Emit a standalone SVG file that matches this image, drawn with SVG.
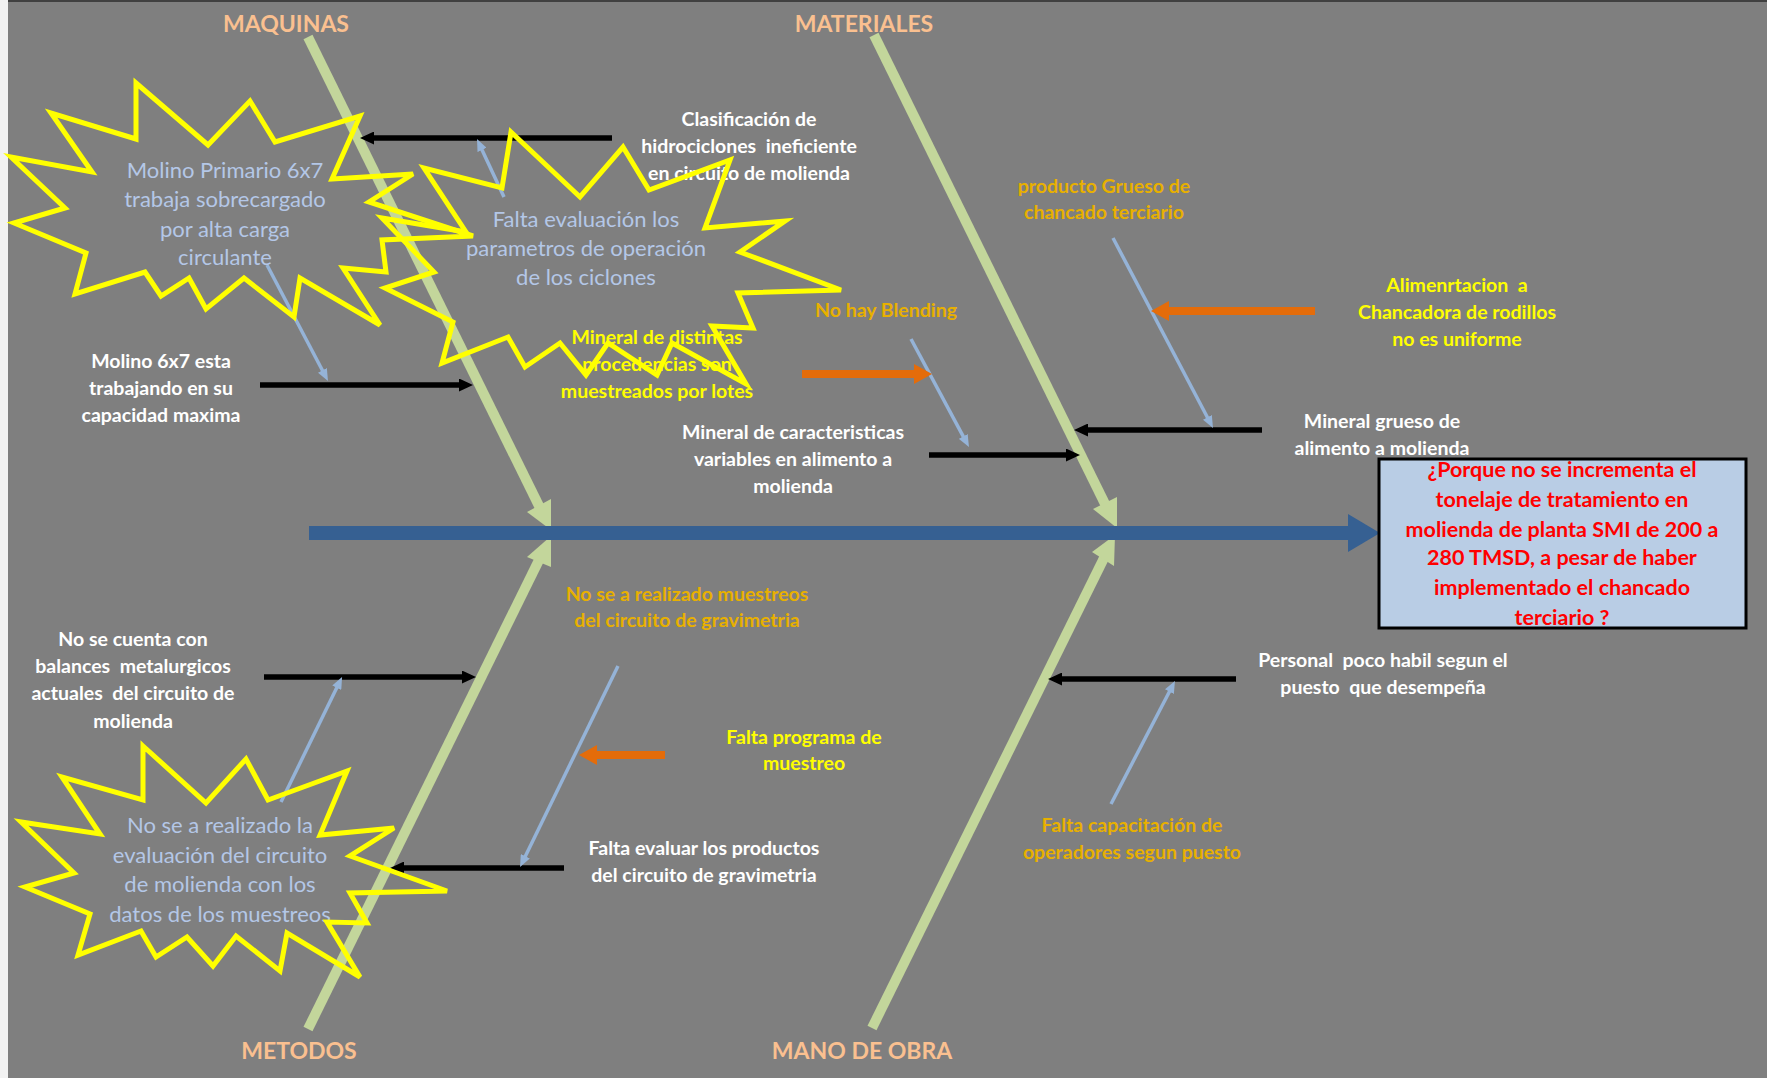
<svg xmlns="http://www.w3.org/2000/svg" width="1767" height="1078" viewBox="0 0 1767 1078">
<style>
text{font-family:Lato,"Open Sans","Liberation Sans",sans-serif;text-anchor:middle;white-space:pre}
.cat{font-weight:700;font-size:23px;fill:#FAC090}
.w{font-weight:700;font-size:19.5px;fill:#FFFFFF}
.y{font-weight:700;font-size:19.5px;fill:#FFFF00}
.g{font-weight:700;font-size:19.5px;fill:#E8B000}
.s{font-weight:400;font-size:22px;fill:#B4C7E7}
.q{font-weight:700;font-size:21.5px;fill:#FF0000}
.star{fill:none;stroke:#FFFF00;stroke-width:5;stroke-linejoin:miter}
.bone{stroke:#C3D69B;stroke-width:10;fill:none}
.bh{fill:#C3D69B}
.blk{stroke:#000;stroke-width:5.5;fill:none;marker-end:url(#mb)}
.blu{stroke:#95B3D7;stroke-width:3.5;fill:none;marker-end:url(#mu)}
.org{stroke:#E46C0A;stroke-width:8;fill:none;marker-end:url(#mo)}
</style>
<defs>
<marker id="mb" viewBox="0 0 14 13" refX="4" refY="6.5" markerWidth="14" markerHeight="13" markerUnits="userSpaceOnUse" orient="auto"><path d="M0,0 L14,6.5 L0,13 Z" fill="#000"/></marker>
<marker id="mu" viewBox="0 0 12 10" refX="3" refY="5" markerWidth="12" markerHeight="10" markerUnits="userSpaceOnUse" orient="auto"><path d="M0,0 L12,5 L0,10 Z" fill="#95B3D7"/></marker>
<marker id="mo" viewBox="0 0 18 20" refX="5" refY="10" markerWidth="18" markerHeight="20" markerUnits="userSpaceOnUse" orient="auto"><path d="M0,0 L18,10 L0,20 Z" fill="#E46C0A"/></marker>
</defs>
<rect x="0" y="0" width="1767" height="1078" fill="#7F7F7F"/>
<rect x="0" y="0" width="8" height="1078" fill="#F2F2F2"/>
<rect x="8" y="0" width="1759" height="2" fill="#404040"/>

<g id="connectors">
  <line class="bone" x1="308" y1="37" x2="540" y2="508"/>
  <polygon class="bh" points="527,512 551,499 551,530"/>
  <line class="bone" x1="874" y1="35" x2="1107" y2="508"/>
  <polygon class="bh" points="1093,509 1117,497 1117,528"/>
  <line class="bone" x1="308" y1="1029" x2="540" y2="558"/>
  <polygon class="bh" points="527,557 551,567 551,536"/>
  <line class="bone" x1="872" y1="1028" x2="1104" y2="558"/>
  <polygon class="bh" points="1092,552 1114,566 1115,535"/>
  <rect x="309" y="526" width="1041" height="14" fill="#366092"/>
  <polygon points="1348,514 1380,533 1348,552" fill="#366092"/>

  <path class="blk" d="M612,138 H370"/>
  <path class="blk" d="M260,385 H463"/>
  <path class="blk" d="M929,455 H1070"/>
  <path class="blk" d="M1262,430 H1084"/>
  <path class="blk" d="M264,677 H466"/>
  <path class="blk" d="M564,868 H400"/>
  <path class="blk" d="M1236,679 H1058"/>

  <path class="blu" d="M267,265 L323.8,373"/>
  <path class="blu" d="M504,197 L480.8,147.2"/>
  <path class="blu" d="M911,339 L964.7,439.1"/>
  <path class="blu" d="M1113,238 L1208.8,420"/>
  <path class="blu" d="M281,802 L338.1,685.1"/>
  <path class="blu" d="M618,666 L524,858.9"/>
  <path class="blu" d="M1111,804 L1170.8,689"/>

  <path class="org" d="M1315,311 H1164"/>
  <path class="org" d="M802,374 H919"/>
  <path class="org" d="M665,755 H592"/>
</g>

<g id="cat-maquinas"><text class="cat" x="286" y="32">MAQUINAS</text></g>
<g id="cat-materiales"><text class="cat" x="864" y="32">MATERIALES</text></g>
<g id="cat-metodos"><text class="cat" x="299" y="1059">METODOS</text></g>
<g id="cat-mano"><text class="cat" x="862" y="1059">MANO DE OBRA</text></g>

<g id="c-clasificacion"><text class="w" x="749" y="126">Clasificación de</text><text class="w" x="749" y="153">hidrociclones  ineficiente</text><text class="w" x="749" y="180">en circuito de molienda</text></g>
<g id="c-molino67"><text class="w" x="161" y="368">Molino 6x7 esta</text><text class="w" x="161" y="395">trabajando en su</text><text class="w" x="161" y="422">capacidad maxima</text></g>
<g id="c-mineral-var"><text class="w" x="793" y="439">Mineral de caracteristicas</text><text class="w" x="793" y="466">variables en alimento a</text><text class="w" x="793" y="493">molienda</text></g>
<g id="c-mineral-grueso"><text class="w" x="1382" y="428">Mineral grueso de</text><text class="w" x="1382" y="455">alimento a molienda</text></g>
<g id="c-balances"><text class="w" x="133" y="646">No se cuenta con</text><text class="w" x="133" y="673">balances  metalurgicos</text><text class="w" x="133" y="700">actuales  del circuito de</text><text class="w" x="133" y="728">molienda</text></g>
<g id="c-falta-evaluar"><text class="w" x="704" y="855">Falta evaluar los productos</text><text class="w" x="704" y="882">del circuito de gravimetria</text></g>
<g id="c-personal"><text class="w" x="1383" y="667">Personal  poco habil segun el</text><text class="w" x="1383" y="694">puesto  que desempeña</text></g>

<g id="c-mineral-distintas"><text class="y" x="657" y="344">Mineral de distintas</text><text class="y" x="657" y="371">procedencias son</text><text class="y" x="657" y="398">muestreados por lotes</text></g>
<g id="c-alimentacion"><text class="y" x="1457" y="292">Alimenrtacion  a</text><text class="y" x="1457" y="319">Chancadora de rodillos</text><text class="y" x="1457" y="346">no es uniforme</text></g>
<g id="c-programa"><text class="y" x="804" y="744">Falta programa de</text><text class="y" x="804" y="770">muestreo</text></g>

<g id="c-producto"><text class="g" x="1104" y="193">producto Grueso de</text><text class="g" x="1104" y="219">chancado terciario</text></g>
<g id="c-blending"><text class="g" x="886" y="317">No hay Blending</text></g>
<g id="c-muestreos"><text class="g" x="687" y="601">No se a realizado muestreos</text><text class="g" x="687" y="627">del circuito de gravimetria</text></g>
<g id="c-capacitacion"><text class="g" x="1132" y="832">Falta capacitación de</text><text class="g" x="1132" y="859">operadores segun puesto</text></g>

<g id="star-molino">
  <text class="s" x="225" y="178">Molino Primario 6x7</text><text class="s" x="225" y="207">trabaja sobrecargado</text><text class="s" x="225" y="237">por alta carga</text><text class="s" x="225" y="265">circulante</text>
  <polygon class="star" points="136,83 208,145 250,101 275,142 360,116 332,179 413,174 369,202 473,236 382,240 386,272 343,268 380,325 300,278 294,317 244,278 206,309 189,278 161,296 145,272 75,294 86,253 14,223 65,208 11,157 92,172 51,113 136,139"/>
</g>
<g id="star-ciclones">
  <text class="s" x="586" y="227">Falta evaluación los</text><text class="s" x="586" y="256">parametros de operación</text><text class="s" x="586" y="285">de los ciclones</text>
  <polygon class="star" points="511,132 580,197 623,147 649,190 730,160 705,228 785,221 740,252 841,290 738,293 753,328 712,326 746,384 672,343 657,375 608,343 586,375 560,343 525,367 508,337 442,363 453,322 385,288 434,272 382,218 466,232 424,168 502,188"/>
</g>
<g id="star-evaluacion">
  <text class="s" x="220" y="833">No se a realizado la</text><text class="s" x="220" y="863">evaluación del circuito</text><text class="s" x="220" y="892">de molienda con los</text><text class="s" x="220" y="922">datos de los muestreos</text>
  <polygon class="star" points="143,746 206,803 246,759 268,800 347,771 320,835 394,828 350,856 447,891 350,893 367,923 327,922 360,977 287,933 280,971 236,936 213,966 187,937 156,957 141,931 78,955 90,914 25,887 74,873 21,822 100,834 62,777 143,800"/>
</g>

<g id="effect">
  <rect x="1379" y="459" width="367" height="169" fill="#B9CDE5" stroke="#000" stroke-width="3"/>
  <text class="q" x="1562" y="477">¿Porque no se incrementa el</text>
  <text class="q" x="1562" y="507">tonelaje de tratamiento en</text>
  <text class="q" x="1562" y="537">molienda de planta SMI de 200 a</text>
  <text class="q" x="1562" y="565">280 TMSD, a pesar de haber</text>
  <text class="q" x="1562" y="595">implementado el chancado</text>
  <text class="q" x="1562" y="625">terciario ?</text>
</g>
</svg>
